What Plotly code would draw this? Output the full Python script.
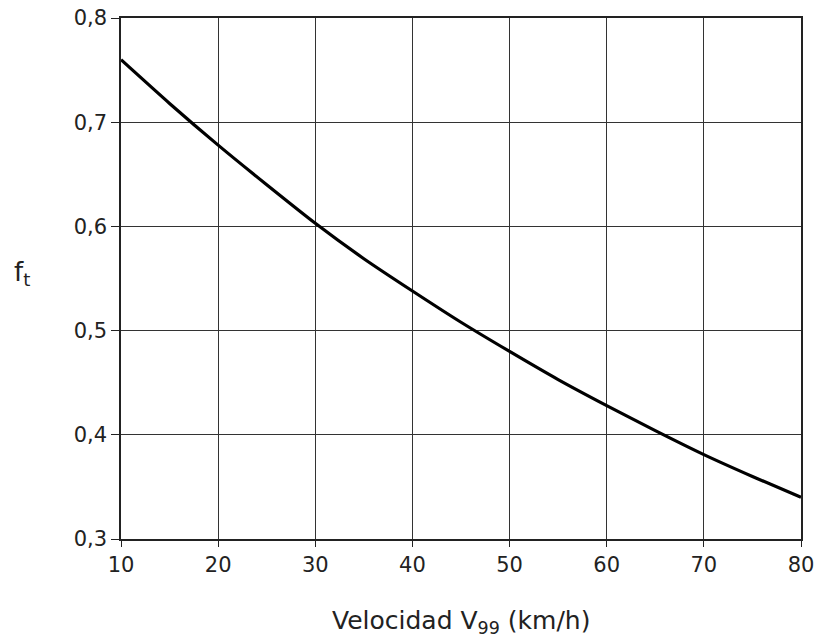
import plotly.graph_objects as go

velocidad = [10, 15, 20, 25, 30, 35, 40, 45, 50, 55, 60, 65, 70, 75, 80]
f_t = [0.760, 0.718, 0.678, 0.640, 0.603, 0.569, 0.538, 0.508, 0.480, 0.453, 0.428, 0.404, 0.381, 0.360, 0.340]

x_ticks = [10, 20, 30, 40, 50, 60, 70, 80]
y_ticks = [0.3, 0.4, 0.5, 0.6, 0.7, 0.8]

fig = go.Figure()
fig.add_trace(go.Scatter(x=velocidad, y=f_t, mode="lines",
                         line=dict(color="black", width=3.2, shape="spline", smoothing=0.6),
                         showlegend=False, hoverinfo="skip"))

font = dict(family="DejaVu Sans, sans-serif", size=21, color="#222")
fig.update_layout(
    width=814, height=644,
    margin=dict(l=121, r=13, t=18, b=105),
    plot_bgcolor="white", paper_bgcolor="white",
    separators=", ",
    font=font,
)
fig.update_xaxes(range=[10, 80], tickvals=x_ticks, showgrid=True, gridcolor="#333", gridwidth=1,
                 showline=True, linecolor="#222", linewidth=1.5, mirror=True, automargin=False,
                 ticklabeloverflow="allow",
                 ticks="outside", ticklen=6, tickcolor="#222", zeroline=False)
fig.update_yaxes(range=[0.3, 0.8], tickvals=y_ticks, tickformat=".1f", showgrid=True, gridcolor="#333", gridwidth=1,
                 showline=True, linecolor="#222", linewidth=1.5, mirror=True, automargin=False,
                 ticklabeloverflow="allow",
                 ticks="outside", ticklen=8, tickcolor="#222", zeroline=False)
fig.add_annotation(text="Velocidad V<sub>99</sub> (km/h)", xref="paper", yref="paper", x=0.5, y=-0.159,
                   showarrow=False, font=dict(size=25, color="#222"), xanchor="center", yanchor="middle")
fig.add_annotation(text="f<sub>t</sub>", xref="paper", yref="paper", x=-0.145, y=0.51,
                   showarrow=False, font=dict(size=26, color="#222"), xanchor="center", yanchor="middle")

fig.write_html("out.html", config={"displayModeBar": False},
               post_script="document.body.style.margin='0';document.body.style.overflow='hidden';")
